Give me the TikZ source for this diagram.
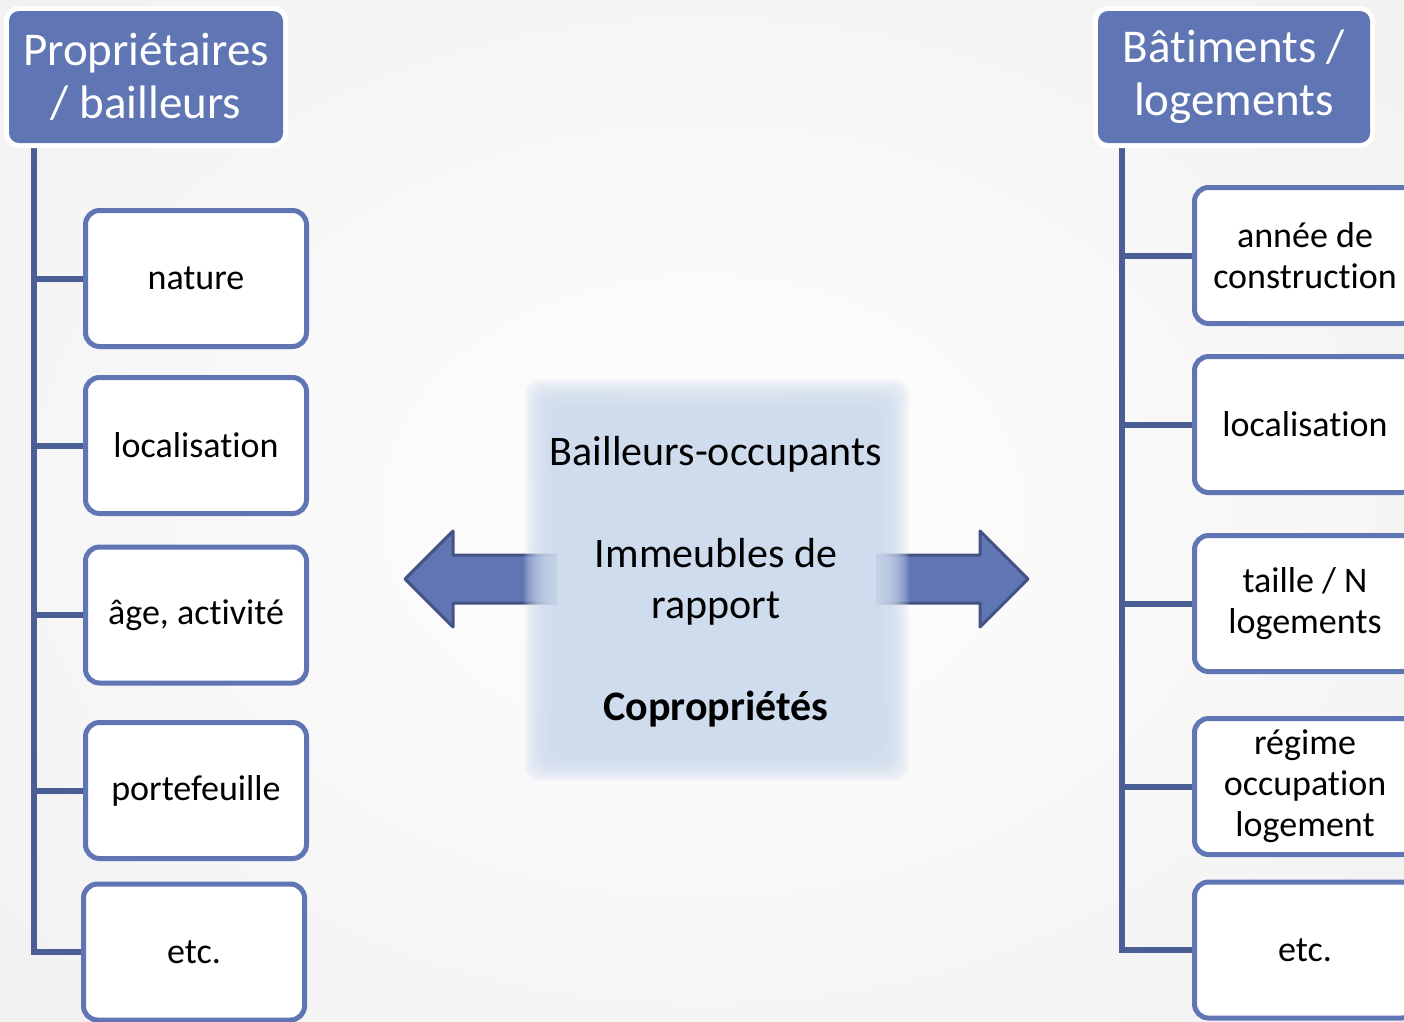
\documentclass[tikz,border=0pt]{standalone}
\usepackage{fontspec}
\setmainfont[Ligatures=NoCommon]{Carlito}
\usetikzlibrary{backgrounds}
\definecolor{hdblue}{RGB}{96,118,180}
\definecolor{trunkblue}{RGB}{74,94,148}
\definecolor{arrowline}{RGB}{66,82,132}
\definecolor{paleblue}{RGB}{207,220,238}

\begin{document}
\begin{tikzpicture}[x=1pt, y=-1pt,
		head/.style={fill=hdblue, text=white, rounded corners=10pt, minimum width=274pt, minimum height=132pt, inner sep=0pt, align=center, font=\fontsize{47}{53}\selectfont, preaction={draw=white, line width=10pt}},
		item/.style={draw=hdblue, line width=5pt, fill=white, rounded corners=14pt, minimum width=221pt, minimum height=136pt, inner sep=0pt, outer sep=0pt, align=center, font=\fontsize{36}{41}\selectfont},
		trunk/.style={draw=trunkblue, line width=6pt},
		bigarrow/.style={fill=hdblue, draw=arrowline, line width=3pt, line join=round}]
			%%%%% START %%%%%
			
			\useasboundingbox (0, 0) rectangle (1404, 1021);
			
			\node[head] (lhead) at (146, 77) {Propriétaires\\/ bailleurs};
			\node[head, minimum width=272pt] (rhead) at (1234, 77) {Bâtiments /\\logements};
			
			\node[item] (l1) at (196, 278.5) {nature};
			\node[item] (l2) at (196, 445.5) {localisation};
			\node[item] (l3) at (196, 615) {âge, activité};
			\node[item] (l4) at (196, 790.5) {portefeuille};
			\node[item] (l5) at (194, 952) {etc.};
			
			\node[item] (r1) at (1305, 255.5) {année de\\construction};
			\node[item] (r2) at (1305, 424.5) {localisation};
			\node[item] (r3) at (1305, 603.5) {taille / N\\logements};
			\node[item] (r4) at (1305, 786.5) {régime\\occupation\\logement};
			\node[item] (r5) at (1305, 950) {etc.};
			
			\node[align=center, font=\fontsize{42}{51}\selectfont] (mid) at (716, 582) {Bailleurs-occupants\\[51pt]Immeubles de\\rapport\\[51pt]\textbf{Copropriétés}};
			
			\begin{pgfonlayer}{background}
				\shade[inner color=white, outer color=black!5] (-200, -150) rectangle (1604, 1171);
				
				\draw[bigarrow] (565, 555) -- (453, 555) -- (453, 531) -- (405, 579) -- (453, 627) -- (453, 603) -- (565, 603) -- cycle;
				\draw[bigarrow] (868, 555) -- (980, 555) -- (980, 531) -- (1028, 579) -- (980, 627) -- (980, 603) -- (868, 603) -- cycle;
				
				\foreach \d in {16,14,...,-16}
					\fill[paleblue, opacity=0.15, rounded corners=14pt] ({540-(\d)}, {395-(\d)}) rectangle ({893+(\d)}, {765+(\d)});
				\fill[paleblue, rounded corners=8pt] (557, 412) rectangle (876, 748);
				
				\foreach \n in {1,...,5}
					\draw[trunk] ([xshift=25pt]lhead.south west) |- (l\n.west);
				\foreach \n in {1,...,5}
					\draw[trunk] ([xshift=24pt]rhead.south west) |- (r\n.west);
			\end{pgfonlayer}
			
			%%%%% END %%%%%
\end{tikzpicture}
\end{document}
